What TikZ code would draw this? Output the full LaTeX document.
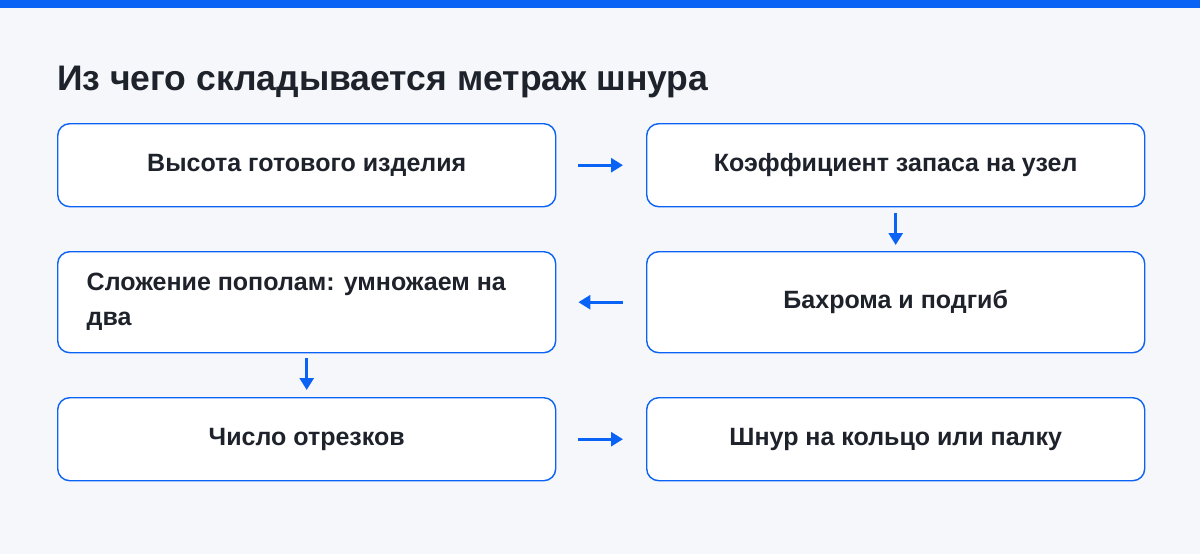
\documentclass[tikz,border=0pt]{standalone}
\usepackage{fontspec}
\setmainfont{Liberation Sans}
\usetikzlibrary{arrows.meta}
\definecolor{bg}{HTML}{F5F7FB}
\definecolor{blu}{HTML}{0B63F6}
\definecolor{ink}{HTML}{1E222B}
\begin{document}
\begin{tikzpicture}[x=1pt,y=-1pt,
  box/.style={draw=blu,line width=1.4pt,rounded corners=12pt,fill=white,minimum width=498pt,inner sep=0pt,text=ink,font=\bfseries\fontsize{25}{35}\selectfont,anchor=north west},
  arr/.style={draw=blu,line width=2.8pt,-{Triangle[length=12pt,width=14pt]}}]
\fill[bg] (0,0) rectangle (1200,554);
\useasboundingbox (0,0) rectangle (1200,554);
\fill[blu] (0,0) rectangle (1200,8);
\node[anchor=base west,text=ink,font=\bfseries\fontsize{35.5}{40}\selectfont,inner sep=0pt] (title) at (57,90) {Из чего складывается метраж шнура};
\node[box,minimum height=83pt] (a) at (57,123) {Высота готового изделия};
\node[box,minimum height=83pt] (b) at (646,123) {Коэффициент запаса на узел};
\node[box,minimum height=101pt] (d) at (57,251) {\begin{minipage}{440pt}\raggedright Сложение пополам: умножаем на два\end{minipage}};
\node[box,minimum height=101pt] (c) at (646,251) {Бахрома и подгиб};
\node[box,minimum height=83pt] (e) at (57,397) {Число отрезков};
\node[box,minimum height=83pt] (f) at (646,397) {Шнур на кольцо или палку};
\draw[arr,shorten <=22pt,shorten >=23pt] (a.east) -- (b.west);
\draw[arr,shorten <=6pt,shorten >=6pt] (b.south) -- (c.north);
\draw[arr,shorten <=23pt,shorten >=22pt] (c.west) -- (d.east);
\draw[arr,shorten <=5pt,shorten >=7pt] (d.south) -- (e.north);
\draw[arr,shorten <=22pt,shorten >=23pt] (e.east) -- (f.west);
\end{tikzpicture}
\end{document}
